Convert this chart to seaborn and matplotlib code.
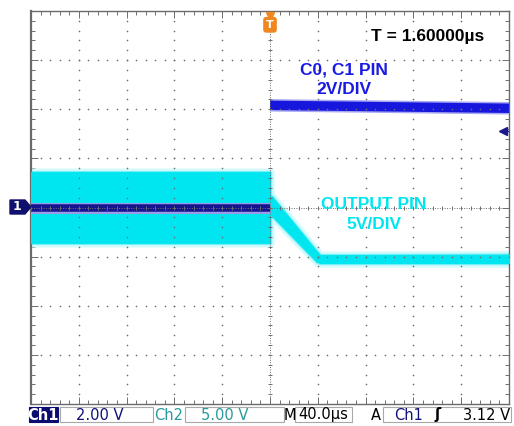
import numpy as np
import pandas as pd
import seaborn as sns
import matplotlib.pyplot as plt
import matplotlib.patches as mpatches

# scope settings
ch1_scale = 2.0     # V/div
ch2_scale = 5.0     # V/div
time_scale = 40.0   # us/div
trig_level = 3.12   # V

# Ch1 (C0, C1 pin) in volts
ch1_low_t = [-200, 0]
ch1_low_v = [0.0, 0.0]
ch1_high_t = [0, 200]
ch1_high_v = [4.16, 4.04]

# Ch2 (output pin) envelope in volts
ch2_t = [-200, 0, 0, 1.7, 39, 42, 200]
ch2_hi = [3.6, 3.6, 1.25, 1.1, -4.45, -4.85, -4.8]
ch2_lo = [-3.6, -3.6, -0.75, -0.85, -5.5, -5.65, -5.65]

status = ["Ch1", "2.00 V", "Ch2", "5.00 V", "M", "40.0µs", "A", "Ch1", "ʃ", "3.12 V"]

sns.set_theme(style="white")
plt.rcParams["font.family"] = ["DejaVu Sans"]

W, H = 514, 426
fig = plt.figure(figsize=(W / 100, H / 100), dpi=100)
fig.patch.set_facecolor("white")
ax = fig.add_axes([31 / W, 1 - 404 / H, 478 / W, 393 / H])
ax.set_xlim(-200, 200)
ax.set_ylim(-4, 4)

# ch2 trace (cyan band)
t2 = np.array(ch2_t)
hi2 = np.array(ch2_hi) / ch2_scale
lo2 = np.array(ch2_lo) / ch2_scale
ax.fill_between(t2, lo2, hi2, facecolor="#d6fafc", edgecolor="#d6fafc", lw=6, zorder=2)
ax.fill_between(t2, lo2, hi2, facecolor="#7df0f6", edgecolor="#7df0f6", lw=2.5, zorder=2)
ax.fill_between(t2, lo2, hi2, facecolor="#00e6f0", edgecolor="#00e6f0", lw=0.8, zorder=3)

# ch1 trace (blue)
low = pd.DataFrame({"t": ch1_low_t, "v": np.array(ch1_low_v) / ch1_scale})
high = pd.DataFrame({"t": ch1_high_t, "v": np.array(ch1_high_v) / ch1_scale})
sns.lineplot(data=low, x="t", y="v", ax=ax, color="#9a9ae6", lw=8, zorder=4, solid_capstyle="butt")
sns.lineplot(data=low, x="t", y="v", ax=ax, color="#14148e", lw=5.4, zorder=4, solid_capstyle="butt")
sns.lineplot(data=high, x="t", y="v", ax=ax, color="#a8a8f4", lw=9, zorder=4, solid_capstyle="butt")
sns.lineplot(data=high, x="t", y="v", ax=ax, color="#1616dc", lw=6.8, zorder=4, solid_capstyle="butt")

# graticule
gc = "#6e6e6e"
ys = np.arange(-4, 4.01, 0.2)
xs = np.arange(-200, 200.1, 8)
for xv in range(-160, 161, 40):
    if xv != 0:
        ax.scatter(np.full_like(ys, xv), ys, s=1.4, color=gc, lw=0, zorder=5)
for yv in range(-3, 4):
    if yv != 0:
        ax.scatter(xs, np.full_like(xs, yv), s=1.4, color=gc, lw=0, zorder=5)
ax.axvline(0, color=gc, lw=0.7, ls=(0, (1, 1.5)), zorder=5)
ax.axhline(0, color=gc, lw=0.7, ls=(0, (1, 1.5)), zorder=5)
ax.scatter(np.zeros_like(ys), ys, marker="_", s=10, color=gc, lw=0.7, zorder=5)
ax.scatter(xs, np.zeros_like(xs), marker="|", s=10, color=gc, lw=0.7, zorder=5)

ax.set_xticks(np.arange(-200, 201, 40))
ax.set_yticks(np.arange(-4, 5, 1))
ax.set_xticks(xs, minor=True)
ax.set_yticks(ys, minor=True)
ax.tick_params(which="both", direction="in", top=True, right=True, bottom=True, left=True,
               labelbottom=False, labelleft=False, color=gc, width=0.7)
ax.tick_params(which="major", length=5)
ax.tick_params(which="minor", length=3)
ax.set_xlabel("")
ax.set_ylabel("")
for s in ax.spines.values():
    s.set_color("#6a6a6a")
    s.set_linewidth(1.0)
ax.spines["left"].set_linewidth(1.6)

# markers: trigger position, trigger level, ch1 ground
ax.plot([0], [3.9], marker="v", ms=6, color="#f0861e", clip_on=False, zorder=6)
ax.text(0, 3.72, "T", ha="center", va="center", color="white", fontsize=8, fontweight="bold",
        bbox=dict(boxstyle="round,pad=0.2", fc="#f0861e", ec="#f0861e"), zorder=6)
ax.plot([195], [trig_level / ch1_scale], marker="<", ms=6, color="#1a1a8e", zorder=6)
ax.plot([195, 200], [trig_level / ch1_scale] * 2, color="#1a1a8e", lw=1, zorder=6)


def fx(px):
    return px / W


def fy(py):
    return 1 - py / H


fig.add_artist(mpatches.Polygon([(fx(10), fy(200)), (fx(25), fy(200)), (fx(31), fy(207)),
                                 (fx(25), fy(214)), (fx(10), fy(214))],
                                closed=True, fc="#10106e", ec="#10106e", transform=fig.transFigure))
fig.text(fx(17), fy(207), "1", color="white", fontsize=9, fontweight="bold", ha="center", va="center")

# annotations
kw = dict(family="Liberation Sans", fontweight="bold", fontsize=12.5, ha="center", va="center")
fig.text(fx(428), fy(36), "T = 1.60000µs", color="black", **kw)
fig.text(fx(344), fy(70), "C0, C1 PIN", color="#1a1ae6", **kw)
fig.text(fx(344), fy(90), "2V/DIV", color="#1a1ae6", **kw)
fig.text(fx(374), fy(205), "OUTPUT PIN", color="#00e6f0", **kw)
fig.text(fx(374), fy(225), "5V/DIV", color="#00e6f0", **kw)

# status bar
def box(x0, x1, fc="white", ec="#a8a8a8"):
    fig.add_artist(mpatches.Rectangle((fx(x0), fy(422)), fx(x1) - fx(x0), fy(407) - fy(422),
                                      fc=fc, ec=ec, lw=0.8, transform=fig.transFigure))


box(29, 58, fc="#0c0c70", ec="#0c0c70")
box(60, 153)
box(185, 284)
box(295, 352)
box(383, 511)
sk = dict(fontsize=10.5, ha="center", va="center")
ypos = fy(415)
fig.text(fx(43.5), ypos, status[0], color="white", fontweight="bold", **sk)
fig.text(fx(100), ypos, status[1], color="#10107a", **sk)
fig.text(fx(169), ypos, status[2], color="#2a9a9a", **sk)
fig.text(fx(225), ypos, status[3], color="#2a9a9a", **sk)
fig.text(fx(290), ypos, status[4], color="black", **sk)
fig.text(fx(323), ypos, status[5], color="black", **sk)
fig.text(fx(376), ypos, status[6], color="black", **sk)
fig.text(fx(409), ypos, status[7], color="#10107a", **sk)
fig.text(fx(438), ypos, status[8], color="black", fontweight="bold", **sk)
fig.text(fx(487), ypos, status[9], color="black", **sk)

plt.savefig("out.png", dpi=100)
